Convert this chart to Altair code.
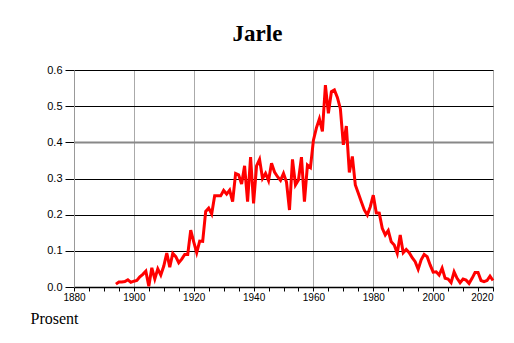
import altair as alt
import pandas as pd

years = list(range(1894, 2021))
values = [
    0.008, 0.014, 0.014, 0.015, 0.020, 0.013, 0.016, 0.018, 0.028, 0.035,
    0.044, 0.002, 0.053, 0.022, 0.050, 0.033, 0.058, 0.094, 0.055, 0.093,
    0.084, 0.067, 0.077, 0.090, 0.090, 0.157, 0.125, 0.095, 0.127, 0.126,
    0.209, 0.218, 0.202, 0.252, 0.252, 0.252, 0.267, 0.257, 0.268, 0.236,
    0.314, 0.310, 0.285, 0.335, 0.236, 0.359, 0.231, 0.335, 0.353, 0.300,
    0.314, 0.294, 0.342, 0.318, 0.305, 0.295, 0.314, 0.290, 0.213, 0.353,
    0.282, 0.296, 0.359, 0.236, 0.337, 0.330, 0.406, 0.440, 0.465, 0.430,
    0.558, 0.480, 0.540, 0.545, 0.524, 0.493, 0.393, 0.445, 0.317, 0.361,
    0.282, 0.259, 0.236, 0.213, 0.199, 0.222, 0.254, 0.205, 0.204, 0.162,
    0.144, 0.156, 0.125, 0.116, 0.093, 0.144, 0.095, 0.104, 0.095, 0.081,
    0.070, 0.049, 0.075, 0.090, 0.084, 0.061, 0.041, 0.042, 0.033, 0.052,
    0.024, 0.022, 0.012, 0.042, 0.024, 0.012, 0.022, 0.019, 0.010, 0.024,
    0.040, 0.040, 0.018, 0.015, 0.018, 0.030, 0.018,
]
x_ticks = list(range(1880, 2021, 5))
y_ticks = [0.0, 0.1, 0.2, 0.3, 0.4, 0.5, 0.6]

df = pd.DataFrame({"year": years, "value": values})

line = alt.Chart(df).mark_line(color="#ff0000", strokeWidth=3).encode(
    x=alt.X(
        "year:Q",
        scale=alt.Scale(domain=[1880, 2020], nice=False, zero=False),
        axis=alt.Axis(
            values=x_ticks,
            title="Prosent",
            titleX=-44,
            titleY=36,
            titleAlign="left",
            titleBaseline="alphabetic",
            titleFont="Liberation Serif",
            titleFontSize=16,
            titleFontWeight="normal",
            titleColor="#000",
            labelExpr="datum.value % 20 == 0 ? datum.value : ''",
            labelAlign=alt.expr("datum.value == 2020 ? 'right' : 'center'"),
            labelFont="Liberation Sans",
            labelFontSize=10,
            labelColor="#000",
            labelPadding=1,
            labelOverlap=False,
            grid=True,
            gridColor="#aaaaaa",
            gridOpacity=alt.expr("datum.value % 20 == 0 ? 1 : 0"),
            tickSize=4,
            tickColor="#000",
            domainColor="#000",
            domainWidth=1.5,
        ),
    ),
    y=alt.Y(
        "value:Q",
        scale=alt.Scale(domain=[0, 0.6], nice=False),
        axis=alt.Axis(
            values=y_ticks,
            format=".1f",
            title=None,
            labelFont="Liberation Sans",
            labelFontSize=11,
            labelColor="#000",
            labelPadding=3,
            grid=True,
            gridColor=alt.expr("datum.value == 0.4 ? '#888888' : '#000000'"),
            gridWidth=alt.expr("datum.value == 0.4 ? 2 : 1"),
            tickSize=9,
            tickColor="#000",
            domainColor="#999999",
        ),
    ),
)

chart = line.properties(
    width=419,
    height=217,
    autosize=alt.AutoSizeParams(type="none"),
    padding={"left": 74, "top": 70, "right": 21, "bottom": 56},
    title=alt.TitleParams(
        "Jarle",
        font="Liberation Serif",
        fontSize=23,
        fontWeight="bold",
        color="#000",
        anchor="middle",
        dx=-26,
        dy=28,
        baseline="alphabetic",
        offset=28,
    ),
).configure_view(stroke=None)

chart.save("out.html", embed_options={"renderer": "svg", "actions": False})
